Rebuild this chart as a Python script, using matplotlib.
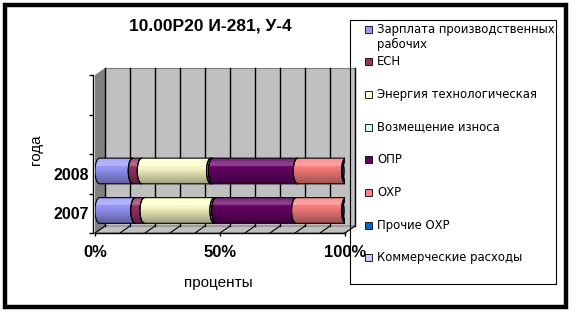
import numpy as np
import matplotlib
matplotlib.use("Agg")
import matplotlib.pyplot as plt
from matplotlib.patches import Polygon, Ellipse, Rectangle, PathPatch
from matplotlib.path import Path

plt.rcParams["font.family"] = ["Liberation Sans", "DejaVu Sans"]

# ---- data -------------------------------------------------------------
years = ["2007", "2008"]
n_slots = 4  # the category axis leaves room for four rows; two are used

series_names = [
    "Зарплата производственных\nрабочих",
    "ЕСН",
    "Энергия технологическая",
    "Возмещение износа",
    "ОПР",
    "ОХР",
    "Прочие ОХР",
    "Коммерческие расходы",
]
zarplata = [14.3, 13.3]
esn = [3.7, 3.6]
energiya = [28.0, 27.7]
iznos = [0.7, 0.7]
opr = [32.0, 34.0]
ohr = [20.0, 19.3]
prochie_ohr = [0.6, 0.6]
kommercheskie = [0.8, 0.8]

series_values = [zarplata, esn, energiya, iznos, opr, ohr, prochie_ohr, kommercheskie]
series_colors = ["#9999FF", "#993366", "#FFFFCC", "#CCFFFF",
                 "#660066", "#FF8080", "#0066CC", "#CCCCFF"]

x_ticks = [0, 50, 100]
x_tick_labels = ["0%", "50%", "100%"]

title = "10.00Р20 И-281, У-4"
x_label = "проценты"
y_label = "года"

# ---- figure -----------------------------------------------------------
W, H = 572, 313
fig = plt.figure(figsize=(W / 100, H / 100), dpi=100)
fig.patch.set_facecolor("white")


def fx(px):
    return px / W


def fy(py):
    return 1 - py / H


ax = fig.add_axes([fx(95), fy(233), 250 / W, 158 / H])
ax.set_facecolor("none")

# pseudo-3D depth of the walls (data units)
DX = 4.0
DY = 7 / 39.5

wall = "#c0c0c0"
side = "#808080"
ax.add_patch(Rectangle((DX, DY), 100, n_slots, fc=wall, ec=side, lw=0.8,
                       clip_on=False, zorder=0))
ax.add_patch(Polygon([(0, 0), (DX, DY), (DX, n_slots + DY), (0, n_slots)],
                     closed=True, fc=side, ec="none", clip_on=False, zorder=0.5))
ax.add_patch(Polygon([(0, 0), (100, 0), (100 + DX, DY), (DX, DY)],
                     closed=True, fc=wall, ec=side, lw=0.8, clip_on=False, zorder=0.5))
for v in range(0, 101, 10):
    ax.plot([v + DX, v + DX], [DY, n_slots + DY], color="black", lw=1.0,
            clip_on=False, zorder=1)
    ax.plot([v, v + DX], [0, DY], color="black", lw=0.8, clip_on=False, zorder=1)

# ---- cylinders --------------------------------------------------------
bar_h = 0.65
rx = 1.8
lift = 0.07
npts = 40
theta = np.linspace(-np.pi / 2, np.pi / 2, npts)


def segment_vertices(a, b, yc, h):
    ry = h / 2
    left = np.column_stack([a - rx * np.cos(theta), yc + ry * np.sin(theta)])
    right = np.column_stack([b - rx * np.cos(theta[::-1]), yc + ry * np.sin(theta[::-1])])
    return np.vstack([left, right])


def bar_outline(a, b, yc, h):
    ry = h / 2
    left = np.column_stack([a - rx * np.cos(theta), yc + ry * np.sin(theta)])
    right = np.column_stack([b + rx * np.cos(theta[::-1]), yc + ry * np.sin(theta[::-1])])
    return np.vstack([left, right, left[:1]])


# vertical shading: highlight in the upper part, darker towards the bottom
t = np.linspace(0, 1, 64)
shade = np.zeros((64, 1, 4))
hi = t < 0.32
shade[hi, 0, :3] = 1.0
shade[hi, 0, 3] = 0.28 * (1 - np.abs(t[hi] - 0.22) / 0.32).clip(0)
lo = ~hi
shade[lo, 0, 3] = 0.38 * (t[lo] - 0.32) / 0.68

values = np.array(series_values, dtype=float)
shares = values / values.sum(axis=0) * 100

for j, year in enumerate(years):
    yc = j + 0.5 + lift
    edges = np.concatenate([[0], np.cumsum(shares[:, j])]) + rx
    for k in range(len(series_names)):
        verts = segment_vertices(edges[k], edges[k + 1], yc, bar_h)
        ax.add_patch(Polygon(verts, closed=True, fc=series_colors[k], ec="none",
                             zorder=3))
        ax.add_patch(Polygon(verts, closed=True, fill=False, ec="black", lw=0.8,
                             zorder=4))
    outline = PathPatch(Path(bar_outline(edges[0], edges[-1], yc, bar_h)),
                        transform=ax.transData)
    im = ax.imshow(shade, extent=[edges[0] - rx, edges[-1] + rx,
                                  yc - bar_h / 2, yc + bar_h / 2],
                   aspect="auto", interpolation="bilinear", zorder=3.5)
    im.set_clip_path(outline)
    ax.add_patch(Ellipse((edges[-1], yc), 2 * rx, bar_h, fc="#5e5e80",
                         ec="black", lw=0.8, zorder=5))

ax.set_xlim(0, 100)
ax.set_ylim(0, n_slots)

# ---- axes -------------------------------------------------------------
for s in ("top", "right"):
    ax.spines[s].set_visible(False)
ax.spines["left"].set_position(("outward", 1.5))
ax.spines["left"].set_linewidth(1.0)
ax.spines["bottom"].set_linewidth(1.0)

ax.set_yticks(range(n_slots + 1))
ax.set_yticklabels([])
ax.set_yticks([i + 0.5 for i in range(len(years))], minor=True)
ax.set_yticklabels(years, minor=True, fontsize=11.5, fontweight="bold")
ax.tick_params(axis="y", which="major", length=3, width=1, direction="out")
ax.tick_params(axis="y", which="minor", length=0, pad=3)

ax.set_xticks(x_ticks)
ax.set_xticklabels(x_tick_labels, fontsize=12, fontweight="bold")
ax.tick_params(axis="x", which="major", length=2.5, width=1, direction="out", pad=6)

fig.text(fx(210), fy(26), title, ha="center", va="center", fontsize=12.5,
         fontweight="bold")
fig.text(fx(218), fy(283), x_label, ha="center", va="center", fontsize=11)
fig.text(fx(36), fy(150), y_label, ha="center", va="center", fontsize=11,
         rotation=90)

# ---- legend -----------------------------------------------------------
fig.patches.append(Rectangle((fx(350), fy(284)), 206 / W, 264 / H,
                             transform=fig.transFigure, fill=False,
                             ec="black", lw=0.8, zorder=6))
for i, (name, color) in enumerate(zip(series_names, series_colors)):
    y0 = 29 + 32.7 * i
    fig.patches.append(Rectangle((fx(365), fy(y0 + 3.5)), 7 / W, 7 / H,
                                 transform=fig.transFigure, fc=color,
                                 ec="black", lw=0.6, zorder=7))
    for li, line in enumerate(name.split("\n")):
        fig.text(fx(377), fy(y0 + 15 * li), line, ha="left", va="center",
                 fontsize=8.4, family=["DejaVu Sans"], zorder=7)

# outer frame
fig.patches.append(Rectangle((fx(5), fy(307)), 560.5 / W, 302 / H,
                             transform=fig.transFigure, fill=False,
                             ec="black", lw=3.2, zorder=8))

fig.savefig("out.png", dpi=100)
